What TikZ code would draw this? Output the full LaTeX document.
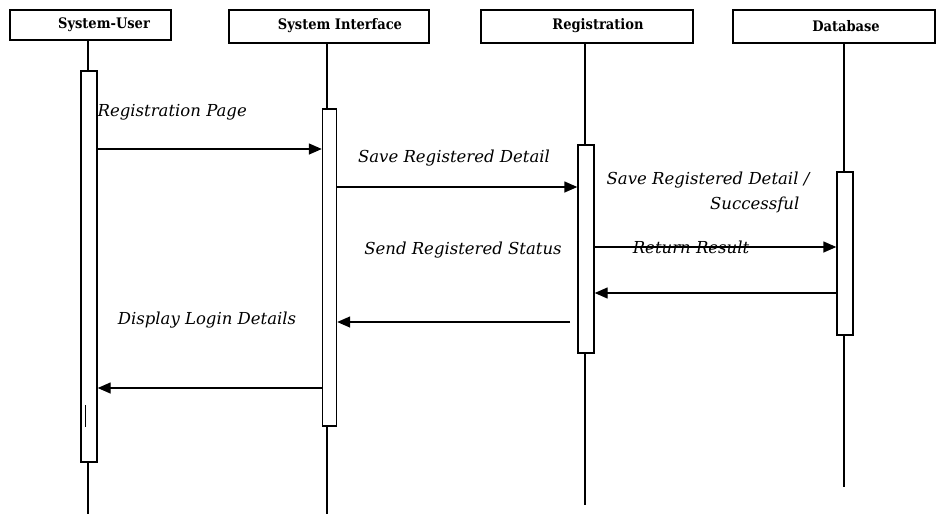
\documentclass[tikz,border=0pt]{standalone}
\usepackage{fontspec}
\setmainfont{DejaVu Serif}
\newfontfamily\headfont{DejaVu Serif Condensed}
\usetikzlibrary{arrows.meta}
\begin{document}
\begin{tikzpicture}[x=1pt,y=-1pt,
  line width=1.4pt,
  hbox/.style={draw, rectangle, inner sep=0pt},
  htext/.style={font=\headfont\bfseries\fontsize{14.5}{16}\selectfont, inner sep=0pt},
  act/.style={draw, fill=white, rectangle, inner sep=0pt, minimum width=16pt},
  msg/.style={-{Triangle[length=13pt,width=11pt]}},
  lbl/.style={font=\itshape\fontsize{16.5}{18}\selectfont, inner sep=0pt},
  life/.style={line width=1.3pt}]
\useasboundingbox (0,0) rectangle (936,515);
% headers
\node[hbox, minimum width=161pt, minimum height=30pt] (h1) at (90.5,25) {};
\node[htext] (t1) at (104,25) {System-User};
\node[hbox, minimum width=200pt, minimum height=33pt] (h2) at (329,26.5) {};
\node[htext] (t2) at (340,26) {System Interface};
\node[hbox, minimum width=212pt, minimum height=33pt] (h3) at (587,26.5) {};
\node[htext] (t3) at (598,26) {Registration};
\node[hbox, minimum width=202pt, minimum height=33pt] (h4) at (834,26.5) {};
\node[htext] (t4) at (846,26) {Database};
% lifeline ends
\coordinate (e1) at (88,514);
\coordinate (e2) at (327,514);
\coordinate (e3) at (585,505);
\coordinate (e4) at (844,487);
\draw[life] (h1.south -| e1) -- (e1);
\draw[life] (h2.south -| e2) -- (e2);
\draw[life] (h3.south -| e3) -- (e3);
\draw[life] (h4.south -| e4) -- (e4);
% activations
\node[act, minimum height=391pt] (a1) at (89,266.5) {};
\node[act, minimum width=14pt, minimum height=317pt] (a2) at (329.5,267.5) {};
\node[act, minimum height=208pt] (a3) at (586,249) {};
\node[act, minimum height=163pt] (a4) at (845,253.5) {};
\coordinate (k1) at (85,405);
\coordinate (k2) at (85,427);
\draw[line width=1pt] (k1) -- (k2);
% message levels
\coordinate (y1) at (0,149);
\coordinate (y2) at (0,187);
\coordinate (y3) at (0,247);
\coordinate (y4) at (0,293);
\coordinate (s5) at (570,322);
\coordinate (y6) at (0,388);
\draw[msg] (a1.east |- y1) -- (a2.west |- y1);
\draw[msg] (a2.east |- y2) -- (a3.west |- y2);
\draw[msg] (a3.east |- y3) -- (a4.west |- y3);
\draw[msg] (a4.west |- y4) -- (a3.east |- y4);
\draw[msg] (s5) -- (a2.east |- s5);
\draw[msg] (a2.west |- y6) -- (a1.east |- y6);
% labels
\node[lbl, anchor=west] (l1) at (97,112) {Registration Page};
\node[lbl] (l2) at (454,158) {Save Registered Detail};
\node[lbl] (l3) at (708,180) {Save Registered Detail /};
\node[lbl, anchor=east] (l3b) at (800,205) {Successful};
\node[lbl] (l4) at (691,247) {Return Result};
\node[lbl] (l5) at (463,250) {Send Registered Status};
\node[lbl] (l6) at (207,320) {Display Login Details};
\end{tikzpicture}
\end{document}
